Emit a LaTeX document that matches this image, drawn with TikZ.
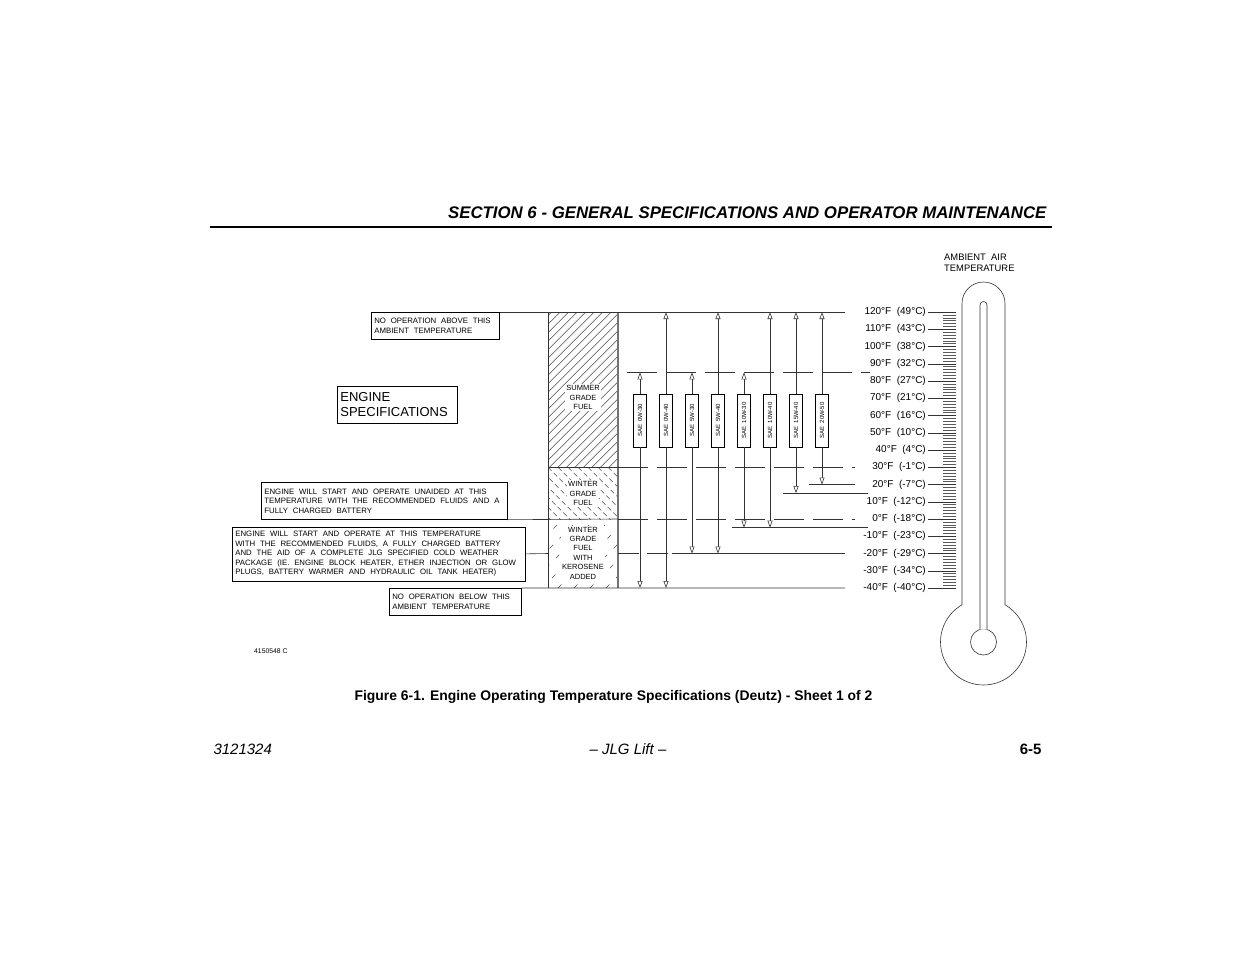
\documentclass[tikz,border=0pt]{standalone}
\usepackage{fontspec}
\setmainfont{Liberation Sans}
\usetikzlibrary{arrows.meta,positioning}

% y position (pixels from top) of a temperature in degrees F
\newcommand{\tempy}[1]{312+(120-(#1))*1.725}
% wide word spacing as in the drawing
\newcommand{\widesp}[1]{\spaceskip=#1em\relax}

\begin{document}
\begin{tikzpicture}[x=1pt, y=-1pt,
    line/.style={draw=black!80, line width=0.6pt},
    dashline/.style={line, dash pattern=on 30pt off 9pt},
    notebox/.style={draw, line width=0.7pt, anchor=north west, align=left, inner xsep=3pt, inner ysep=2pt, font=\fontsize{7.8}{9.5}\selectfont, execute at begin node={\widesp{0.62}}},
    fuel/.style={fill=white, inner sep=1pt, align=center, font=\fontsize{7.5}{9.4}\selectfont},
    saebox/.style={draw, fill=white, line width=0.6pt, rotate=90, minimum width=53pt, minimum height=13pt, inner sep=0pt, font=\fontsize{6}{7}\selectfont\widesp{0.55}},
    saearrow/.style={line, -{Triangle[fill=white, length=7pt, width=5pt]}},
    templabel/.style={anchor=east, inner sep=2pt, font=\fontsize{10}{12}\selectfont\widesp{0.55}},
    hatch/.style={draw=black!70, line width=0.4pt}
]
\fill[white] (0,0) rectangle (1235,954);
\useasboundingbox (0,0) rectangle (1235,954);

% Page header and footer
\node[anchor=base east, font=\bfseries\itshape\fontsize{16.8}{20}\selectfont] (title) at (1050,218) {SECTION 6 - GENERAL SPECIFICATIONS AND OPERATOR MAINTENANCE};
\draw[line width=1.2pt] (210,227) -- (1052,227);
\node[font=\bfseries\fontsize{13.9}{16}\selectfont] (caption) at (613.5,697) {Figure 6-1. Engine Operating Temperature Specifications (Deutz) - Sheet 1 of 2};
\node[anchor=base west, font=\itshape\fontsize{15}{18}\selectfont] (docno) at (210,754) {3121324};
\node[anchor=base, font=\itshape\fontsize{15}{18}\selectfont] (brand) at (628,754) {– JLG Lift –};
\node[anchor=base east, font=\bfseries\fontsize{15}{18}\selectfont] (pageno) at (1045,754) {6-5};
\node[anchor=west, inner sep=0pt, font=\fontsize{6.8}{8}\selectfont] (drawno) at (254,651) {4150548 C};

% Notes
\node[notebox, text width=122pt, minimum height=27pt] (above) at (371,312) {NO OPERATION ABOVE THIS\\AMBIENT TEMPERATURE};
\node[notebox, text width=114pt, minimum height=37pt, font=\fontsize{13}{15}\selectfont] (spec) at (337,386) {ENGINE\\SPECIFICATIONS};
\node[notebox, text width=240pt, minimum height=37pt] (unaided) at (261,482) {ENGINE WILL START AND OPERATE UNAIDED AT THIS\\TEMPERATURE WITH THE RECOMMENDED FLUIDS AND A\\FULLY CHARGED BATTERY};
\node[notebox, text width=287pt, minimum height=54pt] (cold) at (232,526.5) {ENGINE WILL START AND OPERATE AT THIS TEMPERATURE\\WITH THE RECOMMENDED FLUIDS, A FULLY CHARGED BATTERY\\AND THE AID OF A COMPLETE JLG SPECIFIED COLD WEATHER\\PACKAGE (IE. ENGINE BLOCK HEATER, ETHER INJECTION OR GLOW\\PLUGS, BATTERY WARMER AND HYDRAULIC OIL TANK HEATER)};
\node[notebox, text width=126pt, minimum height=27pt] (below) at (389,588) {NO OPERATION BELOW THIS\\AMBIENT TEMPERATURE};

% Fuel column hatching
\begin{scope}
\clip (548,{\tempy{120}}) rectangle (618,{\tempy{30}});
\foreach \i in {0,8.5,...,240} \draw[hatch] ({388+\i},{\tempy{30}}) -- ++(160,-160);
\end{scope}
\begin{scope}
\clip (548,{\tempy{30}}) rectangle (618,{\tempy{0}});
\foreach \i in {0,10,...,130} \draw[hatch, dash pattern=on 5pt off 3pt] ({488+\i},{\tempy{30}}) -- ++(60,60);
\end{scope}
\begin{scope}
\clip (548,{\tempy{0}}) rectangle (618,{\tempy{-40}});
\foreach \i in {0,16,...,150} \draw[hatch, dash pattern=on 5pt off 9pt] ({478+\i},{\tempy{-40}}) -- ++(70,-70);
\end{scope}
\draw[line] (548,{\tempy{120}}) -- (548,{\tempy{-40}});
\draw[line, draw=black!55, line width=1.2pt] (618,{\tempy{120}}) -- (618,{\tempy{-40}});
\node[fuel] (summer) at (583,397.5) {SUMMER\\GRADE\\FUEL};
\node[fuel] (winter) at (583,493.5) {WINTER\\GRADE\\FUEL};
\node[fuel] (kero) at (583,553) {WINTER\\GRADE\\FUEL\\WITH\\KEROSENE\\ADDED};

% Temperature levels
\coordinate (r120) at (845,{\tempy{120}});
\coordinate (r-40) at (845,{\tempy{-40}});
\draw[line] (above.north east) -- (r120);
\draw[line] (below.north east) -- (r-40);
\draw[dashline] (627,{\tempy{85}}) -- (870,{\tempy{85}});
\draw[line] (548,{\tempy{30}}) -- (618,{\tempy{30}});
\draw[dashline] (618,{\tempy{30}}) -- (855,{\tempy{30}});
\draw[line] (809,{\tempy{20}}) -- (855,{\tempy{20}});
\draw[line] (783,{\tempy{15}}) -- (868,{\tempy{15}});
\draw[line] (unaided.south east) -- (618,{\tempy{0}});
\draw[dashline] (618,{\tempy{0}}) -- (855,{\tempy{0}});
\draw[line] (732,{\tempy{-5}}) -- (868,{\tempy{-5}});
\draw[line] (cold.east) -- (548,{\tempy{-20}});
\draw[line, dash pattern=on 21pt off 8pt] (618,{\tempy{-20}}) -- (672,{\tempy{-20}});
\draw[line] (672,{\tempy{-20}}) -- (845,{\tempy{-20}});

% Oil grades
\foreach \x/\grade/\top/\bot [count=\n] in {640/0W-30/85/-40, 666/0W-40/120/-40, 692/5W-30/85/-20, 718/5W-40/120/-20, 744/10W-30/85/-5, 770/10W-40/120/-5, 796/15W-40/120/15, 822/20W-50/120/20} {
  \node[saebox] (sae\n) at (\x,420.5) {SAE \grade};
  \coordinate (top\n) at (\x,{\tempy{\top}});
  \coordinate (bot\n) at (\x,{\tempy{\bot}});
  \draw[saearrow] (sae\n.east) -- (top\n);
  \draw[saearrow] (sae\n.west) -- (bot\n);
}

% Scale
\foreach \k in {0,...,96} \draw[draw=black!65, line width=0.4pt] (943,{312+\k*2.875}) -- (956,{312+\k*2.875});
\foreach \f/\c [count=\n] in {120/49,110/43,100/38,90/32,80/27,70/21,60/16,50/10,40/4,30/-1,20/-7,10/-12,0/-18,-10/-23,-20/-29,-30/-34,-40/-40} {
  \node[templabel] (t\n) at (928,{\tempy{\f}}) {\f°F (\c°C)};
  \coordinate (s\n) at (956,{\tempy{\f}});
  \draw[line, line width=0.5pt] (t\n.east) -- (s\n);
}

% Thermometer
\node[anchor=north west, align=left, inner sep=0pt, font=\fontsize{9.4}{11}\selectfont, execute at begin node={\widesp{0.55}}] (ambient) at (944,254) {AMBIENT AIR\\TEMPERATURE};
\draw[line] (983.5,642) circle[radius=43];
\filldraw[line, fill=white] (962,604.8) -- (962,303.5) arc[start angle=180, end angle=360, radius=21.5] -- (1005,604.8);
\draw[line] (983.5,642) circle[radius=13];
\filldraw[line, fill=white] (980,629.5) -- (980,305) arc[start angle=180, end angle=360, radius=3.5] -- (987,629.5);

\end{tikzpicture}
\end{document}
